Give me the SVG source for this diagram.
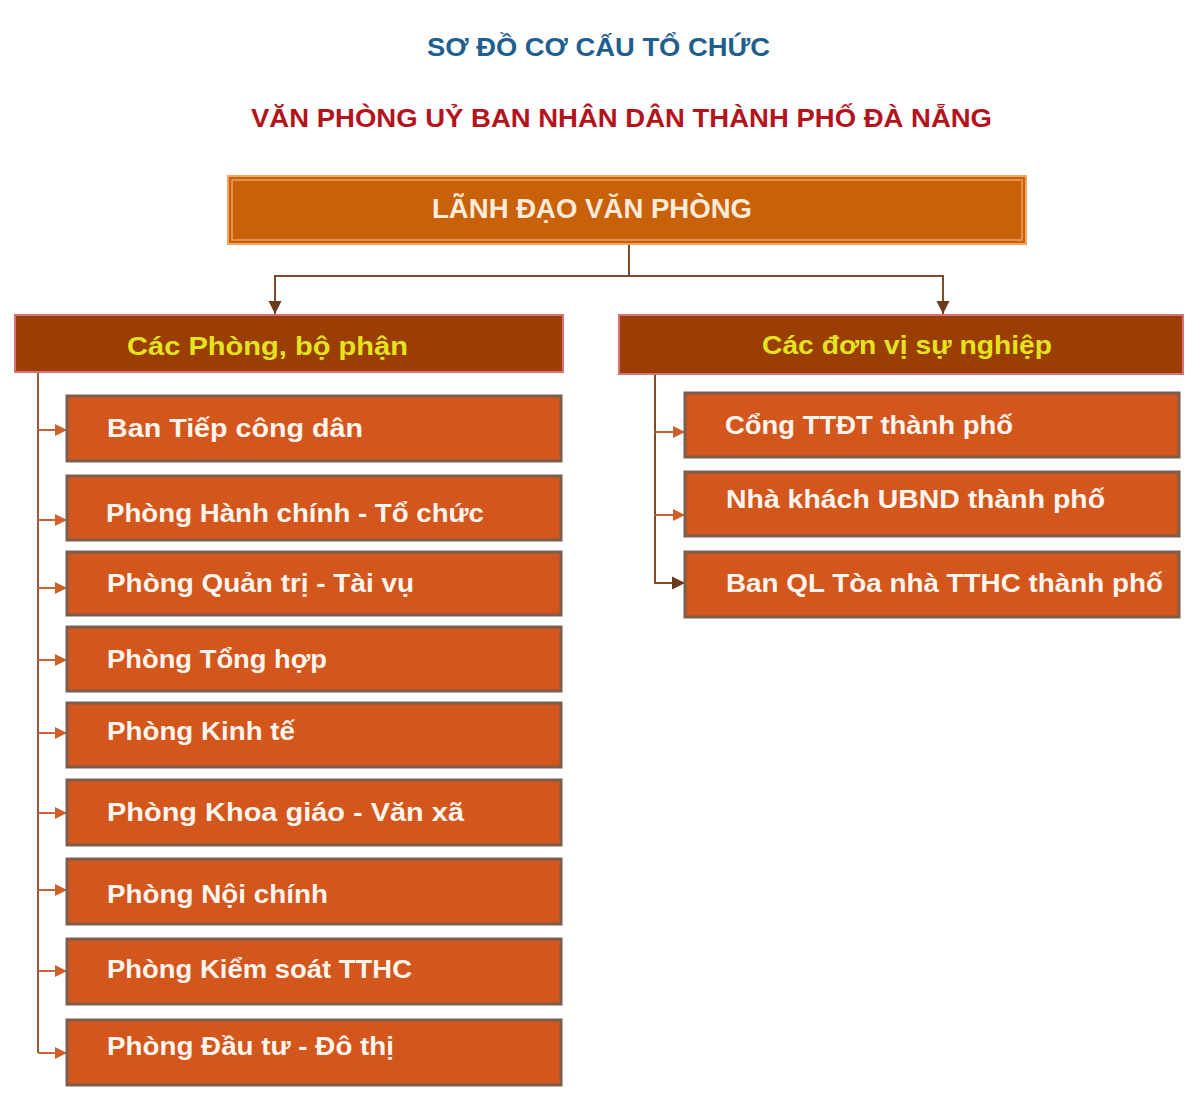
<svg xmlns="http://www.w3.org/2000/svg" width="1200" height="1100" viewBox="0 0 1200 1100">
<defs>
<style>
.t{font-family:"Liberation Sans",Arial,sans-serif;font-weight:bold}
.title1{fill:#1f5f8f;font-size:25px}
.title2{fill:#b3141c;font-size:26px}
.top{fill:#c9610a;stroke:#f6a661;stroke-width:2}
.topin{fill:none;stroke:#f0a060;stroke-width:1.5}
.toptxt{fill:#fdebd9;font-size:27px}
.hdr{fill:#9a3e04;stroke:#d9707a;stroke-width:2}
.hdrtxt{fill:#e3e41e;font-size:26px}
.item{fill:#d3561c;stroke:#7d5d4c;stroke-width:3}
.itxt{fill:#fff5ee;font-size:25px}
.main{fill:none;stroke:#7d4a2c;stroke-width:2}
.trunk{fill:none;stroke:#9a5a3a;stroke-width:2}
.br{fill:none;stroke:#c8643a;stroke-width:2}
</style>
<marker id="am" viewBox="0 0 10 10" refX="10" refY="5" markerWidth="13" markerHeight="15" markerUnits="userSpaceOnUse" orient="auto"><path d="M0,0 L10,5 L0,10 Z" fill="#6b3a1c"/></marker>
<marker id="ab" viewBox="0 0 10 10" refX="10" refY="5" markerWidth="12" markerHeight="13" markerUnits="userSpaceOnUse" orient="auto"><path d="M0,0 L10,5 L0,10 Z" fill="#d0602a"/></marker>
</defs>
<rect width="1200" height="1100" fill="#ffffff"/>

<g id="titles">
<text class="t title1" x="427" y="56" textLength="343" lengthAdjust="spacingAndGlyphs">SƠ ĐỒ CƠ CẤU TỔ CHỨC</text>
<text class="t title2" x="251" y="127" textLength="741" lengthAdjust="spacingAndGlyphs">VĂN PHÒNG UỶ BAN NHÂN DÂN THÀNH PHỐ ĐÀ NẴNG</text>
</g>

<g id="connectors">
<path class="main" d="M629,244 V276 H275 V314" marker-end="url(#am)"/>
<path class="main" d="M629,276 H943 V314" marker-end="url(#am)"/>
<path class="trunk" d="M38,372 V1053"/>
<path class="br" d="M38,430 H67" marker-end="url(#ab)"/>
<path class="br" d="M38,520 H67" marker-end="url(#ab)"/>
<path class="br" d="M38,588 H67" marker-end="url(#ab)"/>
<path class="br" d="M38,660 H67" marker-end="url(#ab)"/>
<path class="br" d="M38,733 H67" marker-end="url(#ab)"/>
<path class="br" d="M38,813 H67" marker-end="url(#ab)"/>
<path class="br" d="M38,890 H67" marker-end="url(#ab)"/>
<path class="br" d="M38,971 H67" marker-end="url(#ab)"/>
<path class="br" d="M38,1053 H67" marker-end="url(#ab)"/>
<path class="main" d="M655,374 V583 H685" marker-end="url(#am)"/>
<path class="br" d="M655,432 H685" marker-end="url(#ab)"/>
<path class="br" d="M655,515 H685" marker-end="url(#ab)"/>
</g>

<g id="lanh-dao">
<rect class="top" x="228" y="176" width="798" height="68"/>
<rect class="topin" x="232" y="180" width="790" height="60"/>
<text class="t toptxt" x="432" y="218" textLength="320" lengthAdjust="spacingAndGlyphs">LÃNH ĐẠO VĂN PHÒNG</text>
</g>

<g id="cac-phong">
<rect class="hdr" x="15" y="315" width="548" height="57"/>
<text class="t hdrtxt" x="127" y="355" textLength="281" lengthAdjust="spacingAndGlyphs">Các Phòng, bộ phận</text>
</g>

<g id="don-vi-su-nghiep">
<rect class="hdr" x="619" y="315" width="564" height="59"/>
<text class="t hdrtxt" x="762" y="354" textLength="290" lengthAdjust="spacingAndGlyphs">Các đơn vị sự nghiệp</text>
</g>

<g id="ban-tiep-cong-dan">
<rect class="item" x="67" y="396" width="494" height="65"/>
<text class="t itxt" x="107" y="437" textLength="256" lengthAdjust="spacingAndGlyphs">Ban Tiếp công dân</text>
</g>
<g id="phong-hanh-chinh">
<rect class="item" x="67" y="476" width="494" height="64"/>
<text class="t itxt" x="106" y="522" textLength="378" lengthAdjust="spacingAndGlyphs">Phòng Hành chính - Tổ chức</text>
</g>
<g id="phong-quan-tri">
<rect class="item" x="67" y="552" width="494" height="63"/>
<text class="t itxt" x="107" y="592" textLength="307" lengthAdjust="spacingAndGlyphs">Phòng Quản trị - Tài vụ</text>
</g>
<g id="phong-tong-hop">
<rect class="item" x="67" y="627" width="494" height="64"/>
<text class="t itxt" x="107" y="668" textLength="220" lengthAdjust="spacingAndGlyphs">Phòng Tổng hợp</text>
</g>
<g id="phong-kinh-te">
<rect class="item" x="67" y="703" width="494" height="64"/>
<text class="t itxt" x="107" y="740" textLength="188" lengthAdjust="spacingAndGlyphs">Phòng Kinh tế</text>
</g>
<g id="phong-khoa-giao">
<rect class="item" x="67" y="780" width="494" height="65"/>
<text class="t itxt" x="107" y="821" textLength="357" lengthAdjust="spacingAndGlyphs">Phòng Khoa giáo - Văn xã</text>
</g>
<g id="phong-noi-chinh">
<rect class="item" x="67" y="859" width="494" height="65"/>
<text class="t itxt" x="107" y="903" textLength="221" lengthAdjust="spacingAndGlyphs">Phòng Nội chính</text>
</g>
<g id="phong-kiem-soat">
<rect class="item" x="67" y="939" width="494" height="65"/>
<text class="t itxt" x="107" y="978" textLength="305" lengthAdjust="spacingAndGlyphs">Phòng Kiểm soát TTHC</text>
</g>
<g id="phong-dau-tu">
<rect class="item" x="67" y="1020" width="494" height="65"/>
<text class="t itxt" x="107" y="1055" textLength="287" lengthAdjust="spacingAndGlyphs">Phòng Đầu tư - Đô thị</text>
</g>

<g id="cong-ttdt">
<rect class="item" x="685" y="393" width="494" height="64"/>
<text class="t itxt" x="725" y="434" textLength="288" lengthAdjust="spacingAndGlyphs">Cổng TTĐT thành phố</text>
</g>
<g id="nha-khach">
<rect class="item" x="685" y="472" width="494" height="64"/>
<text class="t itxt" x="726" y="508" textLength="379" lengthAdjust="spacingAndGlyphs">Nhà khách UBND thành phố</text>
</g>
<g id="ban-ql-toa-nha">
<rect class="item" x="685" y="552" width="494" height="65"/>
<text class="t itxt" x="726" y="592" textLength="437" lengthAdjust="spacingAndGlyphs">Ban QL Tòa nhà TTHC thành phố</text>
</g>
</svg>
